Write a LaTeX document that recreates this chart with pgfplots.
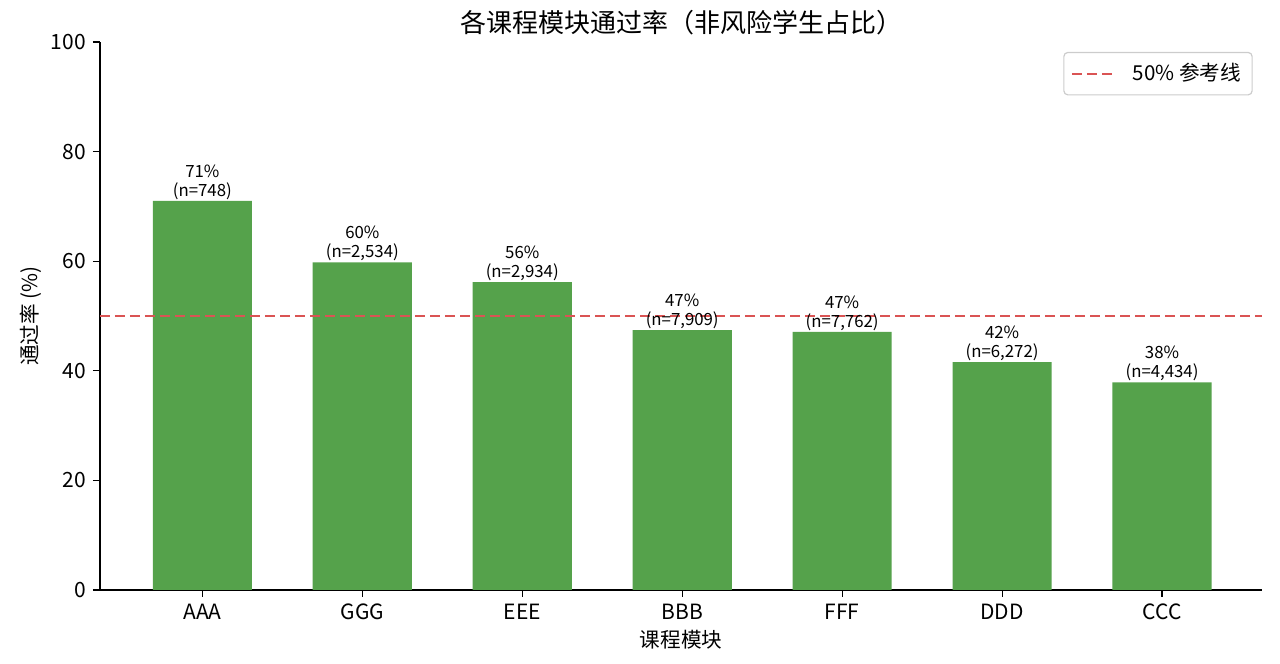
\documentclass[border=0pt]{standalone}
\usepackage{pgfplots}
\pgfplotsset{compat=1.18}
\usepackage{fontspec}
\setmainfont{Noto Sans CJK SC}
\definecolor{bargreen}{RGB}{85,162,75}
\definecolor{refred}{RGB}{218,84,84}
\begin{document}
\begin{tikzpicture}
\begin{axis}[
    scale only axis,
    width=581pt, height=274pt,
    xmin=-0.64, xmax=6.625,
    ymin=0, ymax=100,
    axis x line*=bottom, axis y line*=left,
    axis line style={line width=1pt, -},
    xtick={0,1,2,3,4,5,6},
    xticklabels={AAA,GGG,EEE,BBB,FFF,DDD,CCC},
    ytick={0,20,40,60,80,100},
    tick align=outside,
    major tick length=3.5pt,
    tick style={line width=0.6pt, black},
    /pgf/number format/assume math mode=true,
    ticklabel style={font=\fontsize{10.5}{12}\selectfont},
    xlabel={课程模块},
    ylabel={通过率 (\%)},
    label style={font=\fontsize{10.3}{12}\selectfont},
    xlabel style={yshift=2pt},
    ylabel style={yshift=-2pt},
    title={各课程模块通过率（非风险学生占比）},
    title style={font=\fontsize{13}{15}\selectfont, yshift=-6pt},
    legend style={at={(0.992,0.982)}, anchor=north east,
        draw=black!20, rounded corners=2pt, line width=0.6pt,
        font=\fontsize{10.3}{12}\selectfont, inner sep=3.5pt},
    legend cell align=left,
    legend image code/.code={\draw[#1] (0pt,0pt) -- (20pt,0pt);},
]
\addplot[ybar, bar width=0.62, fill=bargreen, draw=none,
    point meta=explicit symbolic,
    nodes near coords,
    nodes near coords style={align=center, anchor=south, inner sep=0pt,
        yshift=0.5pt, font=\fontsize{8.4}{9.4}\selectfont},
    forget plot]
coordinates {
    (0,71.0) [71\%\\(n=748)]
    (1,59.8) [60\%\\(n=2,534)]
    (2,56.2) [56\%\\(n=2,934)]
    (3,47.4) [47\%\\(n=7,909)]
    (4,47.1) [47\%\\(n=7,762)]
    (5,41.6) [42\%\\(n=6,272)]
    (6,37.9) [38\%\\(n=4,434)]
};
\addplot[refred, line width=1pt, dash pattern=on 5pt off 2.5pt]
coordinates {(-0.64,50) (6.625,50)};
\addlegendentry{\hspace{8pt}50\% 参考线}
\end{axis}
\useasboundingbox ([xshift=-50pt,yshift=-37pt]current axis.south west)
    rectangle ([xshift=9pt,yshift=21pt]current axis.north east);
\end{tikzpicture}
\end{document}
